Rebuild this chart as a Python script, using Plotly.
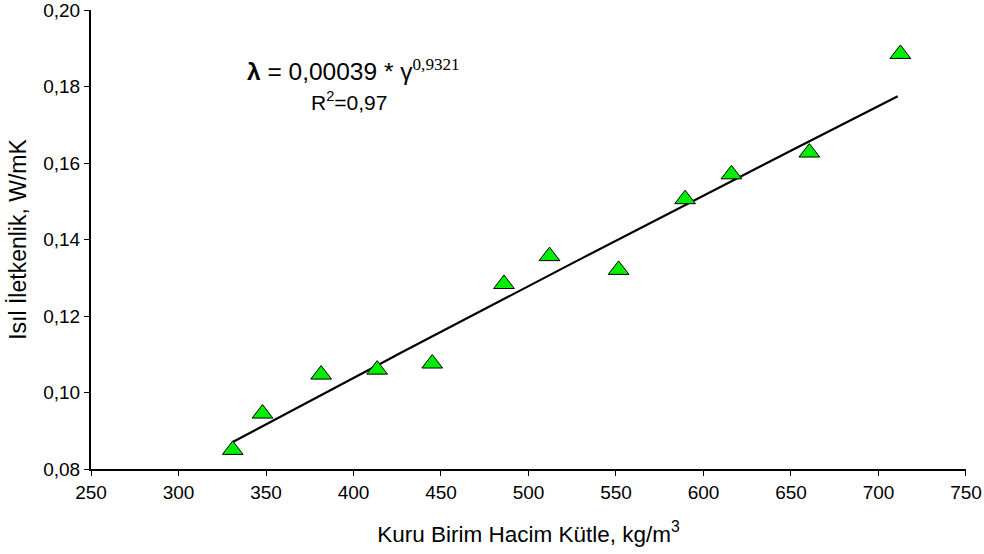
import plotly.graph_objects as go

density = [331, 348, 381.5, 413.5, 445, 486, 512, 551.5, 589.5, 616, 660.5, 712.5]
conductivity = [0.085, 0.0945, 0.1047, 0.1060, 0.1076, 0.1284, 0.1357, 0.1321, 0.1506, 0.1571, 0.1628, 0.1886]

fit_coef = 0.00039
fit_exp = 0.9321
fit_x = [331 + i * 5 for i in range(77)]
fit_y = [fit_coef * x ** fit_exp for x in fit_x]

x_ticks = [250, 300, 350, 400, 450, 500, 550, 600, 650, 700, 750]
y_ticks = [0.08, 0.10, 0.12, 0.14, 0.16, 0.18, 0.20]

font = "Liberation Sans, Arial, sans-serif"

fig = go.Figure()
fig.add_trace(go.Scatter(x=fit_x, y=fit_y, mode="lines",
                         line=dict(color="black", width=2.2), showlegend=False))
fig.add_trace(go.Scatter(x=density, y=conductivity, mode="markers",
                         marker=dict(symbol="triangle-up", size=18, color="#00ee00",
                                     line=dict(color="black", width=1)),
                         showlegend=False))

fig.update_layout(
    width=984, height=554,
    margin=dict(l=91, r=18, t=10, b=85),
    paper_bgcolor="white", plot_bgcolor="white",
    separators=",.",
    font=dict(family=font, size=19, color="black"),
    xaxis=dict(range=[250, 750.01], tickvals=x_ticks, showgrid=False, zeroline=False,
               showline=True, linecolor="black", linewidth=2, ticks="outside",
               ticklen=5, tickcolor="black", automargin=False,
               ticklabeloverflow="allow",
               tickfont=dict(size=19),
               title=dict(text="Kuru Birim Hacim Kütle, kg/m<sup>3</sup>", standoff=24,
                          font=dict(size=22.5))),
    yaxis=dict(range=[0.08, 0.2001], tickvals=y_ticks, tickformat=".2f", showgrid=False,
               zeroline=False, showline=True, linecolor="black", linewidth=2,
               ticks="outside", ticklen=5, tickcolor="black", automargin=False,
               ticklabeloverflow="allow",
               tickfont=dict(size=19),
               title=dict(text="Isıl İletkenlik, W/mK", standoff=10, font=dict(size=23))),
    annotations=[
        dict(x=400, y=0.1844, xref="x", yref="y", showarrow=False,
             text="<b>λ</b> = 0,00039 * γ<sup><span style='font-family:Liberation Serif, Times New Roman, serif'>0,9321</span></sup>",
             font=dict(size=24.5, family=font)),
        dict(x=397.5, y=0.1763, xref="x", yref="y", showarrow=False,
             text="R<sup>2</sup>=0,97", font=dict(size=21, family=font)),
    ],
)

fig.write_html("out.html")
